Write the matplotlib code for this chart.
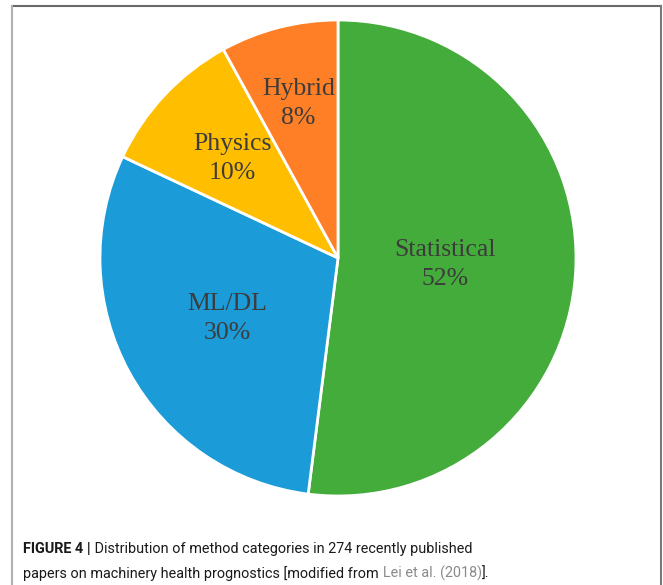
import numpy as np
import matplotlib
matplotlib.use("Agg")
import matplotlib.pyplot as plt
from matplotlib.lines import Line2D

categories = ["Statistical", "ML/DL", "Physics", "Hybrid"]
values = [52, 30, 10, 8]
colors = ["#44AC3B", "#1B9BD7", "#FFBE00", "#FF7F27"]
label_dist = [0.45, 0.53, 0.61, 0.67]

fig = plt.figure(figsize=(6.63, 5.85), dpi=100)
fig.patch.set_facecolor("white")

W, H = 663, 585
cx, cy, r = 338, 258, 238
ax = fig.add_axes([(cx - r) / W, (H - cy - r) / H, 2 * r / W, 2 * r / H])
wedges, _ = ax.pie(values, colors=colors, startangle=90, counterclock=False,
                   wedgeprops=dict(edgecolor="white", linewidth=2), radius=1.0)
ax.set_xlim(-1, 1)
ax.set_ylim(-1, 1)
ax.set_aspect("equal")
ax.axis("off")

serif = ["Liberation Serif", "DejaVu Serif"]
for w, name, v, d in zip(wedges, categories, values, label_dist):
    ang = np.deg2rad((w.theta1 + w.theta2) / 2)
    ax.text(d * np.cos(ang), d * np.sin(ang), f"{name}\n{v}%", ha="center", va="center",
            fontsize=18.5, family=serif, color="#3c3c3c", linespacing=1.4)

# frame lines
fig.add_artist(Line2D([12 / W, 661 / W], [1 - 6 / H, 1 - 6 / H], transform=fig.transFigure,
                      color="#6a6a6a", lw=1.5))
fig.add_artist(Line2D([12 / W, 12 / W], [0, 1 - 6 / H], transform=fig.transFigure,
                      color="#b0b0b0", lw=1.5))
fig.add_artist(Line2D([661 / W, 661 / W], [0, 1 - 6 / H], transform=fig.transFigure,
                      color="#7a7a7a", lw=1.5))

cap_font = ["Roboto", "DejaVu Sans"]
cap_fs = 10.4

t1 = fig.text(23 / W, 1 - 553 / H, "FIGURE 4 |", fontsize=cap_fs, weight="bold",
              family=cap_font, color="#1a1a1a", va="baseline")
fig.canvas.draw()
t1b = fig.text(0, 0, " Distribution of method categories in 274 recently published",
               fontsize=cap_fs, family=cap_font, color="#1a1a1a", va="baseline")
bb = t1.get_window_extent()
t1b.set_position((bb.x1 / W, 1 - 553 / H))

t2 = fig.text(23 / W, 1 - 578 / H, "papers on machinery health prognostics [modified from",
              fontsize=cap_fs, family=cap_font, color="#1a1a1a", va="baseline")
fig.canvas.draw()
bb2 = t2.get_window_extent()
t3 = fig.text((bb2.x1 + 4) / W, 1 - 578 / H, "Lei et al. (2018)", fontsize=cap_fs,
              family=cap_font, color="#8a8a8a", va="baseline")
fig.canvas.draw()
bb3 = t3.get_window_extent()
fig.text(bb3.x1 / W, 1 - 578 / H, "].", fontsize=cap_fs, family=cap_font,
         color="#1a1a1a", va="baseline")

fig.savefig("out.png", dpi=100, facecolor="white")
